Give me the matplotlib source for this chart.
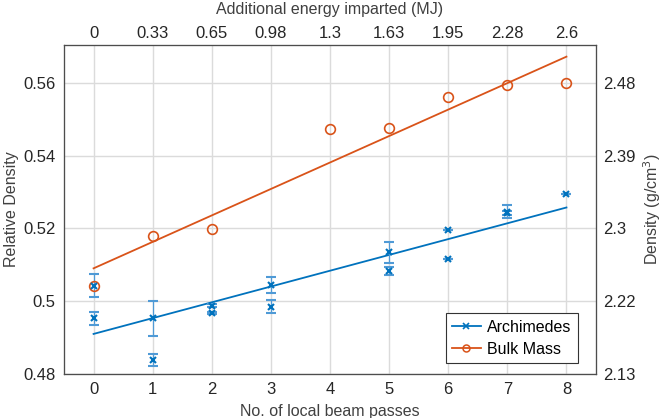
import numpy as np
import matplotlib
matplotlib.use("Agg")
import matplotlib.pyplot as plt
from matplotlib.lines import Line2D

plt.rcParams['font.family'] = ['Liberation Sans', 'DejaVu Sans']

# Archimedes measurements (relative density) with error bars
arch_x = [0, 0, 1, 1, 2, 2, 3, 3, 5, 5, 6, 6, 7, 7, 8]
arch_y = [0.5043, 0.4953, 0.4953, 0.4839, 0.4988, 0.4967, 0.5045, 0.4985,
          0.5134, 0.5083, 0.5196, 0.5115, 0.5246, 0.5243, 0.5294]
arch_err = [0.0032, 0.0018, 0.0048, 0.0017, 0.0004, 0.0003, 0.0022, 0.0018,
            0.0028, 0.0012, 0.0, 0.0, 0.0018, 0.0006, 0.0]

# Bulk mass measurements
bulk_x = [0, 1, 2, 4, 5, 6, 7, 8]
bulk_y = [0.5043, 0.5178, 0.5199, 0.5473, 0.5477, 0.5560, 0.5593, 0.5600]

passes = [0, 1, 2, 3, 4, 5, 6, 7, 8]
energy_labels = ['0', '0.33', '0.65', '0.98', '1.3', '1.63', '1.95', '2.28', '2.6']
rel_ticks = [0.48, 0.50, 0.52, 0.54, 0.56]
rel_labels = ['0.48', '0.5', '0.52', '0.54', '0.56']
dens_labels = ['2.13', '2.22', '2.3', '2.39', '2.48']

blue = '#0072BD'
orange = '#D95319'
spine_c = '#4d4d4d'
text_c = '#262626'

fig = plt.figure(figsize=(6.62, 4.18), dpi=100)
ax = fig.add_axes([0.0967, 0.1053, 0.8036, 0.7877])

xs = np.array([0, 8])
pa = np.polyfit(arch_x, arch_y, 1)
pb = np.polyfit(bulk_x, bulk_y, 1)

ax.errorbar(arch_x, arch_y, yerr=arch_err, fmt='x', color=blue, ecolor='#4f9ad6',
            ms=5, mew=1.5, elinewidth=0.9, capsize=3.5, capthick=0.9, zorder=3)
ax.plot(xs, np.polyval(pa, xs), color=blue, lw=1.3, zorder=2)
ax.plot(bulk_x, bulk_y, 'o', mfc='none', mec=orange, ms=7, mew=1.2, zorder=3)
ax.plot(xs, np.polyval(pb, xs), color=orange, lw=1.3, zorder=2)

ax.set_xlim(-0.5, 8.5)
ax.set_ylim(0.48, 0.5705)
ax.set_xticks(passes)
ax.set_yticks(rel_ticks)
ax.set_yticklabels(rel_labels)
ax.grid(True, color='#dbdbdb', lw=1)
ax.set_axisbelow(True)
ax.tick_params(length=0, labelsize=12, colors=text_c, pad=6)
for s in ax.spines.values():
    s.set_color(spine_c)
    s.set_linewidth(0.8)
ax.set_xlabel('No. of local beam passes', fontsize=11.5, color='#404040', labelpad=5)
ax.set_ylabel('Relative Density', fontsize=11.5, color='#404040', labelpad=3)

top = ax.twiny()
top.set_xlim(ax.get_xlim())
top.set_xticks(passes)
top.set_xticklabels(energy_labels)
top.tick_params(length=0, labelsize=12, colors=text_c, pad=3)
top.set_xlabel('Additional energy imparted (MJ)', fontsize=11.5, color='#404040', labelpad=8)

right = ax.twinx()
right.set_ylim(ax.get_ylim())
right.set_yticks(rel_ticks)
right.set_yticklabels(dens_labels)
right.tick_params(length=0, labelsize=12, colors=text_c, pad=5)
right.set_ylabel('Density (g/cm$^3$)', fontsize=11.5, color='#404040', labelpad=4)
for a in (top, right):
    for s in a.spines.values():
        s.set_color(spine_c)
        s.set_linewidth(0.8)

handles = [Line2D([], [], color=blue, marker='x', ms=4, mew=1.2, lw=1.3),
           Line2D([], [], color=orange, marker='o', mfc='none', ms=5, mew=1.1, lw=1.3)]
leg = right.legend(handles, ['Archimedes', 'Bulk Mass'], loc='lower right',
                   bbox_to_anchor=(0.966, 0.033), borderaxespad=0, fontsize=11.5,
                   fancybox=False, framealpha=1, edgecolor='#333333', handlelength=1.8,
                   handletextpad=0.4, borderpad=0.4, labelspacing=0.45)
leg.get_frame().set_linewidth(0.8)

fig.savefig('out.png', dpi=100)
